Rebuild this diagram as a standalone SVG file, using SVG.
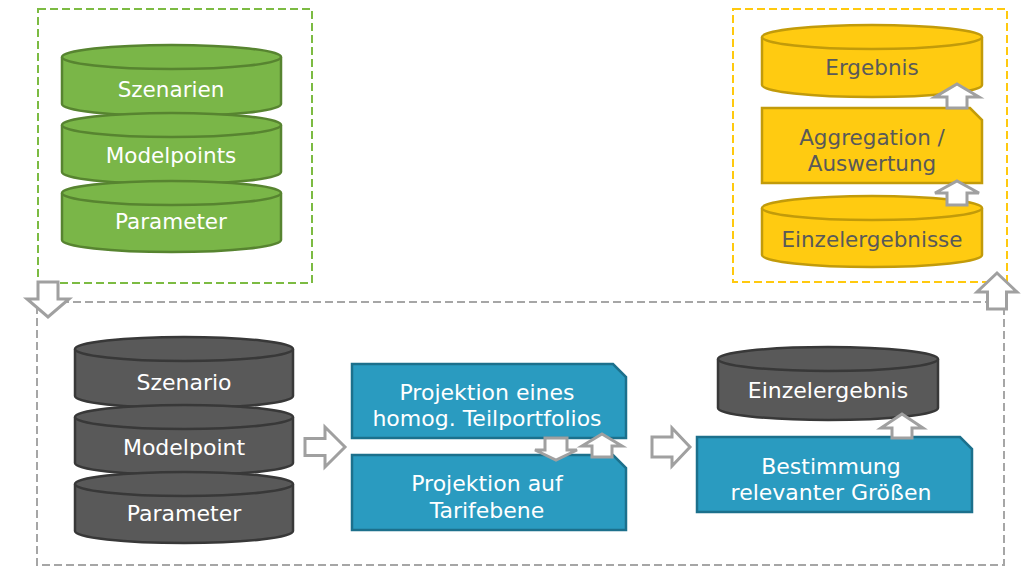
<svg xmlns="http://www.w3.org/2000/svg" width="1024" height="567" viewBox="0 0 1024 567">
<style>
text{font-family:"DejaVu Sans","Verdana",sans-serif;font-size:22px;text-anchor:middle}
.s{font-size:21.5px}
.frame{fill:none;stroke-width:2;stroke-dasharray:8 4}
.g{fill:#7ab648;stroke:#578430;stroke-width:2.5}
.y{fill:#ffcb11;stroke:#c29b0a;stroke-width:2.5}
.d{fill:#595959;stroke:#383838;stroke-width:2.5}
.b{fill:#2a9bc0;stroke:#1c708c;stroke-width:2.5}
.tw{fill:#ffffff}
.tg{fill:#595959}
.arr{fill:#ffffff;stroke:#a0a0a0;stroke-width:3;stroke-linejoin:miter}
</style>
<rect width="1024" height="567" fill="#ffffff"/>
<g id="frames">
<rect class="frame" x="37" y="302" width="967" height="263" stroke="#a6a6a6"/>
<rect class="frame" x="38" y="9" width="274" height="274" stroke="#7cbb42"/>
<rect class="frame" x="733" y="9" width="274" height="273" stroke="#ffc90e"/>
</g>
<g id="n-szenarien">
<path class="g" d="M62,57 A109.5,12 0 0 1 281,57 V104 A109.5,12 0 0 1 62,104 Z"/>
<path class="g" fill="none" d="M62,57 A109.5,12 0 0 0 281,57"/>
<text class="tw s" x="171" y="97">Szenarien</text>
</g>
<g id="n-modelpoints">
<path class="g" d="M62,125 A109.5,12 0 0 1 281,125 V172 A109.5,12 0 0 1 62,172 Z"/>
<path class="g" fill="none" d="M62,125 A109.5,12 0 0 0 281,125"/>
<text class="tw s" x="171" y="163">Modelpoints</text>
</g>
<g id="n-parameter-g">
<path class="g" d="M62,193 A109.5,12 0 0 1 281,193 V240 A109.5,12 0 0 1 62,240 Z"/>
<path class="g" fill="none" d="M62,193 A109.5,12 0 0 0 281,193"/>
<text class="tw s" x="171" y="229">Parameter</text>
</g>
<g id="n-ergebnis">
<path class="y" d="M762,37 A110,12 0 0 1 982,37 V85 A110,12 0 0 1 762,85 Z"/>
<path class="y" fill="none" d="M762,37 A110,12 0 0 0 982,37"/>
<text class="tg s" x="872" y="75">Ergebnis</text>
</g>
<g id="n-aggregation">
<path class="y" d="M762,108 H970 L982,120 V183 H762 Z"/>
<text class="tg s" x="872" y="145">Aggregation /</text>
<text class="tg s" x="872" y="171">Auswertung</text>
</g>
<g id="n-einzelergebnisse">
<path class="y" d="M762,208 A110,12 0 0 1 982,208 V255 A110,12 0 0 1 762,255 Z"/>
<path class="y" fill="none" d="M762,208 A110,12 0 0 0 982,208"/>
<text class="tg s" x="872" y="247">Einzelergebnisse</text>
</g>
<g id="n-szenario">
<path class="d" d="M75,349 A109,12 0 0 1 293,349 V396 A109,12 0 0 1 75,396 Z"/>
<path class="d" fill="none" d="M75,349 A109,12 0 0 0 293,349"/>
<text class="tw" x="184" y="390">Szenario</text>
</g>
<g id="n-modelpoint">
<path class="d" d="M75,417 A109,12 0 0 1 293,417 V463 A109,12 0 0 1 75,463 Z"/>
<path class="d" fill="none" d="M75,417 A109,12 0 0 0 293,417"/>
<text class="tw" x="184" y="455">Modelpoint</text>
</g>
<g id="n-parameter-d">
<path class="d" d="M75,484 A109,12 0 0 1 293,484 V531 A109,12 0 0 1 75,531 Z"/>
<path class="d" fill="none" d="M75,484 A109,12 0 0 0 293,484"/>
<text class="tw" x="184" y="521">Parameter</text>
</g>
<g id="n-projektion1">
<path class="b" d="M352,364 H613 L626,377 V438 H352 Z"/>
<text class="tw" x="487" y="400">Projektion eines</text>
<text class="tw" x="487" y="426">homog. Teilportfolios</text>
</g>
<g id="n-projektion2">
<path class="b" d="M352,455 H613 L626,468 V530 H352 Z"/>
<text class="tw" x="487" y="491">Projektion auf</text>
<text class="tw" x="487" y="518">Tarifebene</text>
</g>
<g id="n-einzelergebnis">
<path class="d" d="M718,359 A110,12 0 0 1 938,359 V408 A110,12 0 0 1 718,408 Z"/>
<path class="d" fill="none" d="M718,359 A110,12 0 0 0 938,359"/>
<text class="tw" x="828" y="398">Einzelergebnis</text>
</g>
<g id="n-bestimmung">
<path class="b" d="M697,437 H960 L972,449 V512 H697 Z"/>
<text class="tw" x="831" y="474">Bestimmung</text>
<text class="tw" x="831" y="500">relevanter Größen</text>
</g>
<g id="connectors">
<polygon class="arr" points="38,282 58,282 58,299 69,299 48,317 27,299 38,299"/>
<polygon class="arr" points="987.5,309 987.5,292 977,292 997,273 1017,292 1006.5,292 1006.5,309"/>
<polygon class="arr" points="305,438.5 325,438.5 325,427 345,447 325,467 325,455.5 305,455.5"/>
<polygon class="arr" points="652,437 672,437 672,428 690,447 672,466 672,457 652,457"/>
<polygon class="arr" points="545,438 567,438 567,450 577,450 556,460 535,450 545,450"/>
<polygon class="arr" points="592,457 592,446 582,446 602,434 622,446 612,446 612,457"/>
<polygon class="arr" points="947,108 947,97 935,97 957,84 979,97 967,97 967,108"/>
<polygon class="arr" points="947,205 947,193 935,193 957,181 979,193 967,193 967,205"/>
<polygon class="arr" points="892,438 892,428 881,428 902,414 923,428 912,428 912,438"/>
</g>
</svg>
